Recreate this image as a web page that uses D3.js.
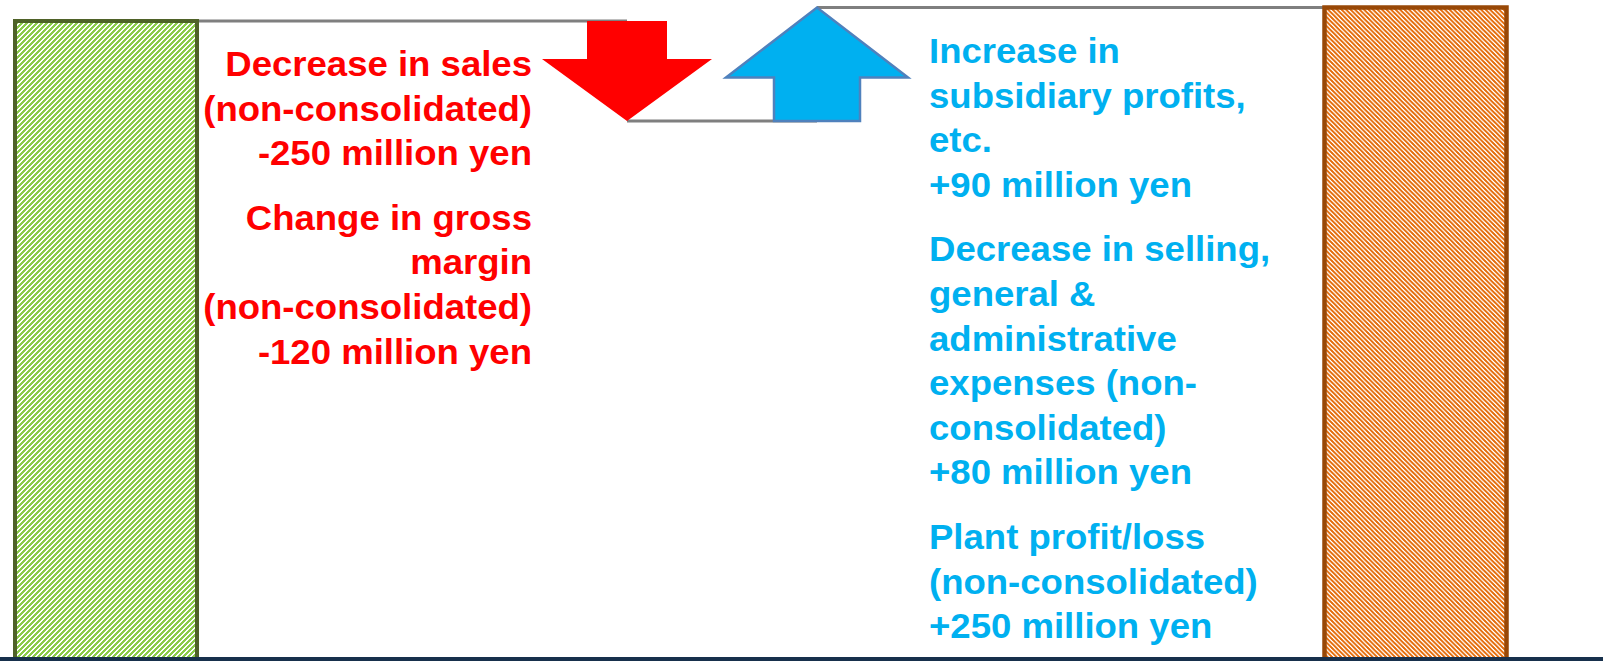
<!DOCTYPE html>
<html lang="en">
<head>
  <meta charset="UTF-8">
  <title>Profit bridge</title>
  <style>
    html, body { margin: 0; padding: 0; background: #fff; overflow: hidden; }
    svg { display: block; }
    .label { font-family: "Liberation Sans", Arial, sans-serif; font-weight: bold; font-size: 36px; }
  </style>
</head>
<body>
  <div id="chart"></div>

  <script src="https://cdn.jsdelivr.net/npm/d3@7"></script>
  <script>
    // bar start value is an estimate, its base is hidden below the frame
    const steps = ['previous', 'decrease', 'increase', 'current'];
    const startValue = 2500;

    const decreaseValues = [-250, -120];
    const decreaseLabels = [
      ['Decrease in sales', '(non-consolidated)', '-250 million yen'],
      ['Change in gross', 'margin', '(non-consolidated)', '-120 million yen']
    ];

    const increaseValues = [90, 80, 250];
    const increaseLabels = [
      ['Increase in', 'subsidiary profits,', 'etc.', '+90 million yen'],
      ['Decrease in selling,', 'general &', 'administrative', 'expenses (non-', 'consolidated)', '+80 million yen'],
      ['Plant profit/loss', '(non-consolidated)', '+250 million yen']
    ];

    const width = 1603;
    const height = 661;
    const frameBottom = 657;

    const afterDown = startValue + d3.sum(decreaseValues);
    const endValue = afterDown + d3.sum(increaseValues);

    const x = d3.scaleOrdinal()
      .domain(steps)
      .range([106, 627, 817, 1415.5]);

    const y = d3.scaleLinear()
      .domain([0, endValue])
      .range([696, 7.5]);

    const svg = d3.select('#chart')
      .append('svg')
      .attr('width', width)
      .attr('height', height);

    const defs = svg.append('defs');

    // hatch fills of the two total bars
    defs.append('pattern')
      .attr('id', 'hatch-green')
      .attr('patternUnits', 'userSpaceOnUse')
      .attr('width', 5).attr('height', 5)
      .call(p => {
        p.append('rect').attr('width', 5).attr('height', 5).attr('fill', '#fff');
        p.append('path').attr('d', 'M-1,1 L1,-1 M0,5 L5,0 M4,6 L6,4')
          .attr('stroke', '#8CCB4A').attr('stroke-width', 2)
          .attr('shape-rendering', 'crispEdges');
      });

    defs.append('pattern')
      .attr('id', 'hatch-orange')
      .attr('patternUnits', 'userSpaceOnUse')
      .attr('width', 4.5).attr('height', 4.5)
      .call(p => {
        p.append('rect').attr('width', 4.5).attr('height', 4.5).attr('fill', '#fff');
        p.append('path').attr('d', 'M-1,3.5 L1,5.5 M0,0 L4.5,4.5 M3.5,-1 L5.5,1')
          .attr('stroke', '#E46C0A').attr('stroke-width', 1.3)
          .attr('shape-rendering', 'crispEdges');
      });

    defs.append('clipPath')
      .attr('id', 'frame-clip')
      .append('rect')
      .attr('x', 0).attr('y', 0)
      .attr('width', width).attr('height', frameBottom);

    const plot = svg.append('g').attr('clip-path', 'url(#frame-clip)');

    const barWidth = 182;
    const totals = [
      { step: 'previous', value: startValue, fill: 'url(#hatch-green)', stroke: '#4F6228', sw: 4 },
      { step: 'current', value: endValue, fill: 'url(#hatch-orange)', stroke: '#984807', sw: 4.5 }
    ];

    // connectors
    const connectors = [
      [x('previous') + barWidth / 2, x('decrease'), startValue],
      [x('decrease'), x('increase'), afterDown],
      [x('increase'), x('current') - barWidth / 2, endValue]
    ];
    plot.selectAll('.connector')
      .data(connectors)
      .enter()
      .append('line')
      .attr('class', 'connector')
      .attr('x1', d => d[0])
      .attr('x2', d => d[1])
      .attr('y1', d => y(d[2]))
      .attr('y2', d => y(d[2]))
      .attr('stroke', '#7F7F7F')
      .attr('stroke-width', 3);

    plot.selectAll('.total')
      .data(totals)
      .enter()
      .append('rect')
      .attr('class', 'total')
      .attr('x', d => x(d.step) - barWidth / 2)
      .attr('y', d => y(d.value))
      .attr('width', barWidth)
      .attr('height', d => y(0) - y(d.value))
      .attr('fill', d => d.fill)
      .attr('stroke', d => d.stroke)
      .attr('stroke-width', d => d.sw);

    // block arrows for the change
    function arrowPoints(cx, yFrom, yTo, shaft, head, headLen) {
      const dir = yTo > yFrom ? 1 : -1;
      const yNeck = yTo - dir * headLen;
      return [
        [cx - shaft, yFrom], [cx + shaft, yFrom], [cx + shaft, yNeck],
        [cx + head, yNeck], [cx, yTo], [cx - head, yNeck], [cx - shaft, yNeck]
      ];
    }

    plot.append('polygon')
      .attr('points', arrowPoints(x('decrease'), y(startValue), y(afterDown), 40, 85, 62).join(' '))
      .attr('fill', '#FF0000');

    plot.append('polygon')
      .attr('points', arrowPoints(x('increase'), y(afterDown), y(endValue), 43, 91, 70).join(' '))
      .attr('fill', '#00B0F0')
      .attr('stroke', '#4F81BD')
      .attr('stroke-width', 2.5)
      .attr('stroke-linejoin', 'miter');

    // frame bottom line
    svg.append('rect')
      .attr('x', 0).attr('y', frameBottom)
      .attr('width', width).attr('height', height - frameBottom)
      .attr('fill', '#17304C');

    // labels
    const lineH = 44.6;
    const blockGap = 20;
    const stretch = 1.015;

    function drawLabels(blocks, anchorX, firstBase, anchor, color) {
      const g = svg.append('g')
        .attr('transform', `translate(${anchorX},0) scale(${stretch},1)`);
      let base = firstBase;
      blocks.forEach(lines => {
        lines.forEach(t => {
          g.append('text')
            .attr('class', 'label')
            .attr('x', 0)
            .attr('y', base)
            .attr('text-anchor', anchor)
            .attr('fill', color)
            .text(t);
          base += lineH;
        });
        base += blockGap;
      });
    }

    drawLabels(decreaseLabels, x('decrease') - 95, y(startValue) + 55, 'end', '#FF0000');
    drawLabels(increaseLabels, x('increase') + 112, y(endValue) + 55.5, 'start', '#00B0F0');
  </script>
</body>
</html>
